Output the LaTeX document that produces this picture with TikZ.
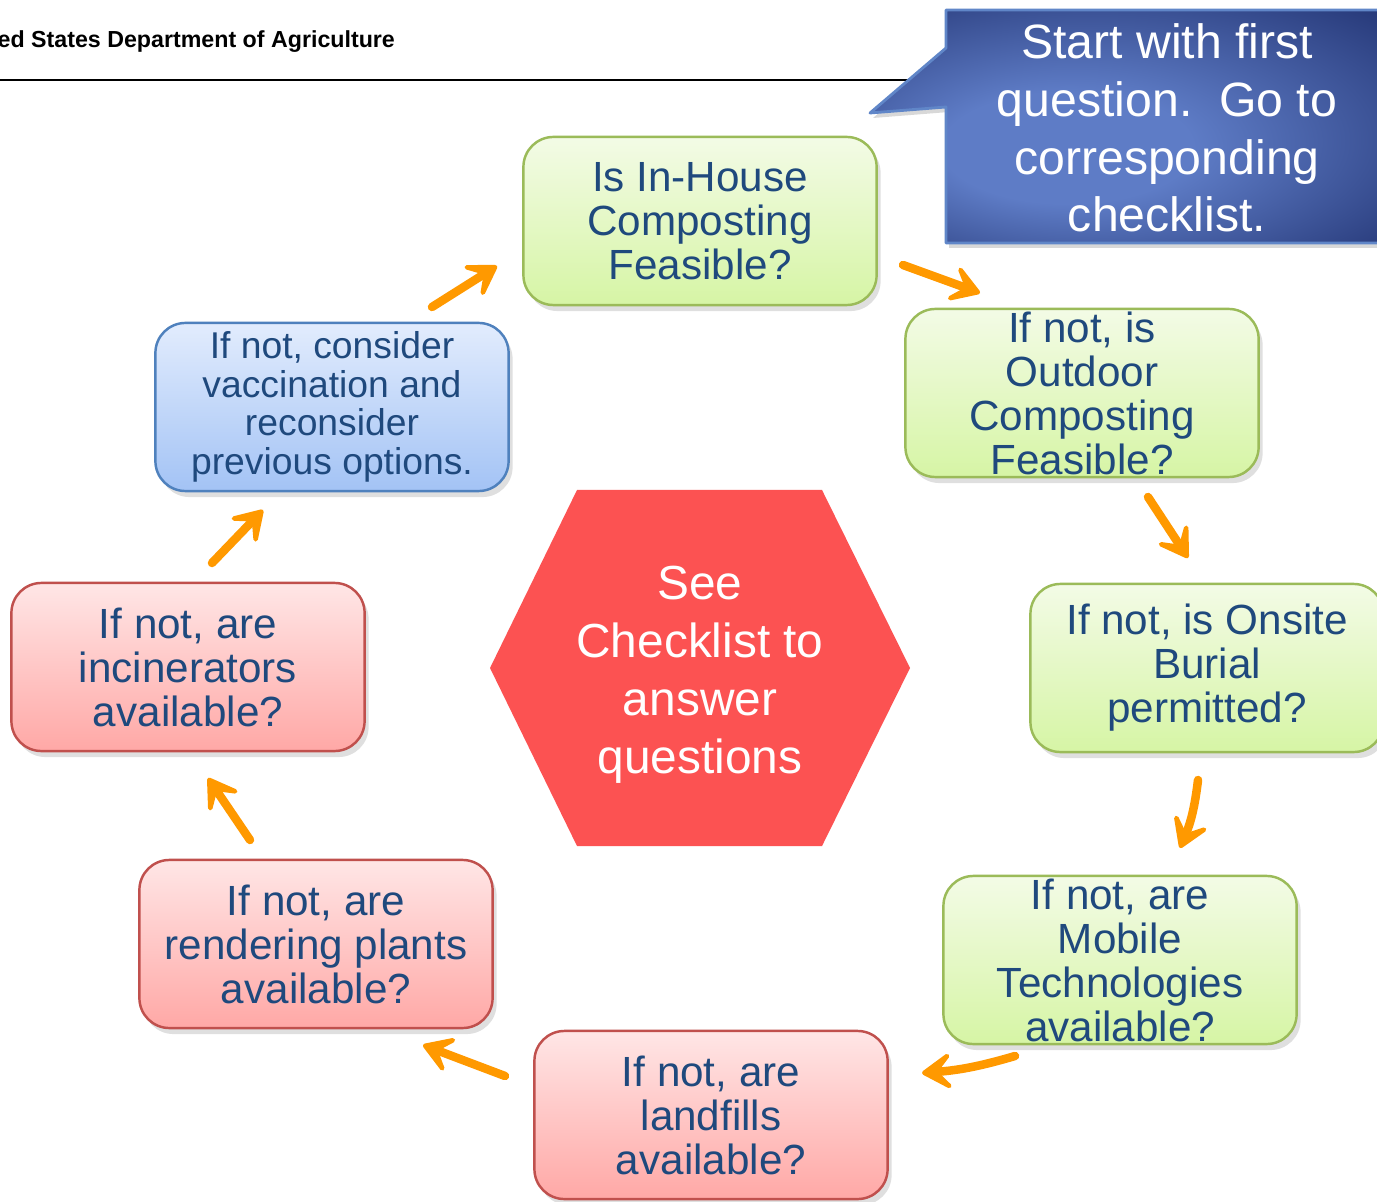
\documentclass[tikz,border=0pt]{standalone}
\usepackage{fontspec}
\setmainfont{Liberation Sans}
\usepackage{xcolor}
\definecolor{txt}{RGB}{31,73,125}
\definecolor{grn}{RGB}{155,187,89}
\definecolor{grntop}{RGB}{243,251,230}
\definecolor{grnbot}{RGB}{214,245,165}
\definecolor{rdl}{RGB}{192,80,77}
\definecolor{rdtop}{RGB}{255,230,230}
\definecolor{rdbot}{RGB}{255,168,166}
\definecolor{blu}{RGB}{79,129,189}
\definecolor{blutop}{RGB}{226,236,253}
\definecolor{blubot}{RGB}{163,195,245}
\definecolor{hex}{RGB}{252,82,82}
\definecolor{navy}{RGB}{28,44,106}
\definecolor{navylight}{RGB}{94,124,198}
\definecolor{navyline}{RGB}{96,134,200}
\definecolor{orng}{RGB}{255,153,0}
\usepackage{tikz}
\usetikzlibrary{calc,shadows,arrows.meta}
\pgfdeclareradialshading{calloutglow}{\pgfpoint{-8bp}{-6bp}}{color(0bp)=(navylight); color(12bp)=(navylight); color(42bp)=(navy); color(50bp)=(navy)}

\begin{document}
\begin{tikzpicture}[x=0.01cm,y=-0.01cm,line join=round]
	\tikzstyle{qbox}=[rounded corners=0.3cm,minimum width=3.53cm,minimum height=1.68cm,inner sep=0pt,align=center,text=txt,line width=0.7pt,drop shadow={opacity=0.25,shadow xshift=0.04cm,shadow yshift=-0.06cm}];
	\tikzstyle{greenq}=[qbox,draw=grn,top color=grntop,bottom color=grnbot];
	\tikzstyle{redq}=[qbox,draw=rdl,top color=rdtop,bottom color=rdbot];
	\tikzstyle{blueq}=[qbox,draw=blu,top color=blutop,bottom color=blubot];
	\tikzstyle{flow}=[orng,line width=0.085cm,line cap=round,-{Stealth[length=0.4cm,width=0.5cm,inset=0.22cm,round]}];
\newcommand{\qfont}{\fontsize{12}{12.5}\selectfont}
\newcommand{\smallqfont}{\fontsize{10.6}{11}\selectfont}
\newcommand{\hubfont}{\fontsize{13.6}{16.5}\selectfont}
\newcommand{\notefont}{\fontsize{13.7}{16.4}\selectfont}
%<--------------------------------------------------------------------------->%

	\useasboundingbox (0,0) rectangle (1377,1201);
	\fill[white] (0,0) rectangle (1377,1201);
	\clip (0,0) rectangle (1377,1201);
	%% Header
	\node[anchor=base west,inner sep=0pt,font=\bfseries\fontsize{6.6}{8}\selectfont] (usda) at (-3,48) {ed States Department of Agriculture};
	\draw[line width=0.6pt] (0,80) -- (930,80);
	%% Callout
	\draw[navyline,line width=0.8pt,shading=calloutglow,drop shadow={opacity=0.3,shadow xshift=0.03cm,shadow yshift=-0.05cm}]
		(946,10) -- (1392,10) -- (1392,243) -- (946,243) -- (946,107) -- (870,113) -- (946,48) -- cycle;
	\node[text=white,align=center,font=\notefont] (note) at (1167,128) {Start with first\\question.\ \ Go to\\corresponding\\checklist.};
	%% Hexagon
	\fill[hex] (577,490) -- (822,490) -- (910,668) -- (822,846) -- (577,846) -- (490,668) -- cycle;
	\node[text=white,align=center,font=\hubfont] (hub) at (700,675) {See\\Checklist to\\answer\\questions};
	%% Questions
	\node[greenq,font=\qfont     ] (inhouse)   at (700,221)  {Is In-House\\Composting\\Feasible?};
	\node[greenq,font=\qfont     ] (outdoor)   at (1082,393) {If not, is\\Outdoor\\Composting\\Feasible?};
	\node[greenq,font=\qfont     ] (onsite)    at (1207,668) {If not, is Onsite\\Burial\\permitted?};
	\node[greenq,font=\qfont     ] (mobile)    at (1120,960) {If not, are\\Mobile\\Technologies\\available?};
	\node[redq,font=\qfont       ] (landfill)  at (711,1115) {If not, are\\landfills\\available?};
	\node[redq,font=\qfont       ] (rendering) at (316,944)  {If not, are\\rendering plants\\available?};
	\node[redq,font=\qfont       ] (incin)     at (188,667)  {If not, are\\incinerators\\available?};
	\node[blueq,font=\smallqfont ] (vaccine)   at (332,407)  {If not, consider\\vaccination and\\reconsider\\previous options.};
	%% Arrows
	\coordinate (a1) at (903,265);  \coordinate (b1) at (980,293);
	\coordinate (a2) at (1148,497); \coordinate (b2) at (1188,558);
	\coordinate (a3) at (1198,780); \coordinate (b3) at (1180,848);
	\coordinate (a4) at (1015,1056);\coordinate (b4) at (922,1073);
	\coordinate (a5) at (505,1076); \coordinate (b5) at (423,1045);
	\coordinate (a6) at (250,840);  \coordinate (b6) at (208,778);
	\coordinate (a7) at (212,563);  \coordinate (b7) at (263,510);
	\coordinate (a8) at (432,307);  \coordinate (b8) at (497,266);
	\draw[flow] (a1) -- (b1);
	\draw[flow] (a2) -- (b2);
	\draw[flow] (a3) to[bend left=8] (b3);
	\draw[flow] (a4) to[bend left=6] (b4);
	\draw[flow] (a5) -- (b5);
	\draw[flow] (a6) -- (b6);
	\draw[flow] (a7) -- (b7);
	\draw[flow] (a8) -- (b8);
\end{tikzpicture}
\end{document}
